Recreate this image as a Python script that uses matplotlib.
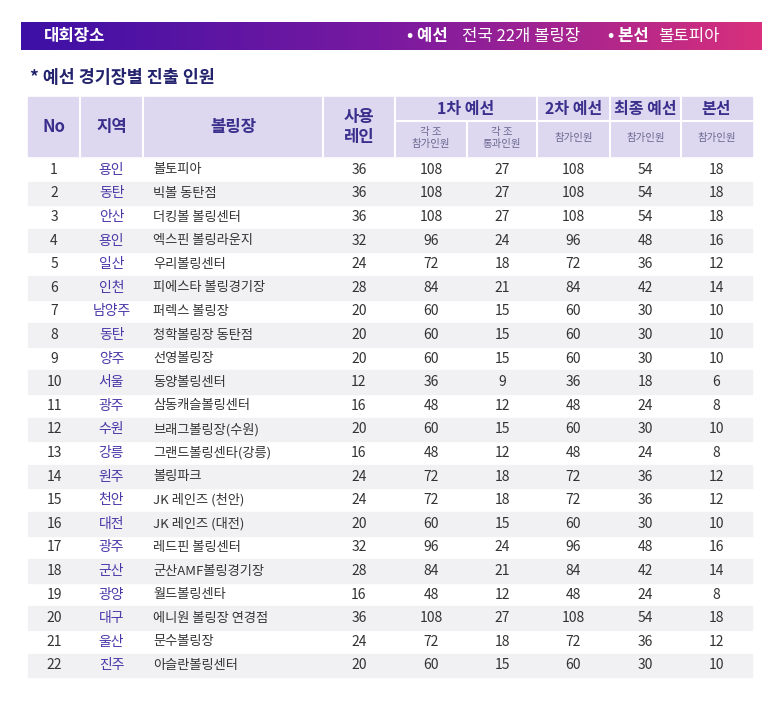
import matplotlib
matplotlib.use("Agg")
import matplotlib.pyplot as plt
import numpy as np
from matplotlib.patches import Rectangle
from matplotlib import font_manager as fm
from matplotlib.colors import LinearSegmentedColormap

cands = [f.name for f in fm.fontManager.ttflist if "CJK" in f.name]
fam = None
for pref in ["Noto Sans CJK KR", "Noto Sans CJK JP", "Noto Sans CJK SC"]:
    if pref in cands:
        fam = pref; break
if fam is None:
    for p in fm.findSystemFonts():
        if "CJK" in p or "cjk" in p.lower():
            try:
                fm.fontManager.addfont(p)
            except Exception:
                pass
    cands = [f.name for f in fm.fontManager.ttflist if "CJK" in f.name]
    fam = cands[0] if cands else "DejaVu Sans"
plt.rcParams["font.family"] = [fam, "DejaVu Sans"]

no = list(range(1, 23))
regions = ["용인","동탄","안산","용인","일산","인천","남양주","동탄","양주","서울","광주","수원","강릉","원주","천안","대전","광주","군산","광양","대구","울산","진주"]
venues = ["볼토피아","빅볼 동탄점","더킹볼 볼링센터","엑스핀 볼링라운지","우리볼링센터","피에스타 볼링경기장","퍼렉스 볼링장","청학볼링장 동탄점","선영볼링장","동양볼링센터","삼동캐슬볼링센터","브래그볼링장(수원)","그랜드볼링센타(강릉)","볼링파크","JK 레인즈 (천안)","JK 레인즈 (대전)","레드핀 볼링센터","군산AMF볼링경기장","월드볼링센타","에니원 볼링장 연경점","문수볼링장","아슬란볼링센터"]
lanes = [36,36,36,32,24,28,20,20,20,12,16,20,16,24,24,20,32,28,16,36,24,20]
r1_part = [108,108,108,96,72,84,60,60,60,36,48,60,48,72,72,60,96,84,48,108,72,60]
r1_pass = [27,27,27,24,18,21,15,15,15,9,12,15,12,18,18,15,24,21,12,27,18,15]
r2_part = [108,108,108,96,72,84,60,60,60,36,48,60,48,72,72,60,96,84,48,108,72,60]
final_part = [54,54,54,48,36,42,30,30,30,18,24,30,24,36,36,30,48,42,24,54,36,30]
main_part = [18,18,18,16,12,14,10,10,10,6,8,10,8,12,12,10,16,14,8,18,12,10]

W, H = 773, 701
fig = plt.figure(figsize=(W/100, H/100), dpi=100)
ax = fig.add_axes([0, 0, 1, 1])
ax.set_xlim(0, W); ax.set_ylim(H, 0); ax.axis("off")

grad = np.linspace(0, 1, 256).reshape(1, -1)
cmap = LinearSegmentedColormap.from_list("g", ["#3d10a6", "#7a1aa0", "#d8307c"])
ax.imshow(grad, extent=[21, 762, 50, 22], aspect="auto", cmap=cmap, zorder=1)
ax.text(44, 36, "대회장소", color="white", fontsize=12, fontweight="bold", va="center", zorder=2)
ax.text(407, 36, "• 예선", color="white", fontsize=12, fontweight="bold", va="center", zorder=2)
ax.text(462, 36, "전국 22개 볼링장", color="white", fontsize=12, va="center", zorder=2)
ax.text(608, 36, "• 본선", color="white", fontsize=12, fontweight="bold", va="center", zorder=2)
ax.text(658, 36, "볼토피아", color="white", fontsize=12, va="center", zorder=2)

ax.text(30, 78, "* 예선 경기장별 진출 인원", color="#23236e", fontsize=12.5, fontweight="bold", va="center")

edges = [28, 80, 143, 323, 395, 467, 537, 610, 681, 752]
hdr_top, hdr_mid, hdr_bot = 97, 121, 156
hbg = "#ddd8f0"; hc = "#3a2f8c"; sep = "white"
ax.add_patch(Rectangle((edges[0], hdr_top), edges[-1]-edges[0], hdr_bot-hdr_top, color=hbg, zorder=1))
for x in edges[1:-1]:
    y0 = hdr_mid if x == 467 else hdr_top
    ax.plot([x, x], [y0, hdr_bot], color=sep, lw=1.5, zorder=2)
ax.plot([edges[4], edges[-1]], [hdr_mid, hdr_mid], color=sep, lw=1.5, zorder=2)

def mid(i): return (edges[i] + edges[i+1]) / 2
ax.text(mid(0), 127, "No", color=hc, fontsize=12, fontweight="bold", ha="center", va="center")
ax.text(mid(1), 127, "지역", color=hc, fontsize=12, fontweight="bold", ha="center", va="center")
ax.text(mid(2), 127, "볼링장", color=hc, fontsize=12, fontweight="bold", ha="center", va="center")
ax.text(mid(3), 127, "사용\n레인", color=hc, fontsize=12, fontweight="bold", ha="center", va="center", linespacing=1.2)
ax.text((edges[4]+edges[6])/2, 109, "1차 예선", color=hc, fontsize=11.5, fontweight="bold", ha="center", va="center")
ax.text(mid(6), 109, "2차 예선", color=hc, fontsize=11.5, fontweight="bold", ha="center", va="center")
ax.text(mid(7), 109, "최종 예선", color=hc, fontsize=11.5, fontweight="bold", ha="center", va="center")
ax.text(mid(8), 109, "본선", color=hc, fontsize=11.5, fontweight="bold", ha="center", va="center")
sc = "#6a6790"
ax.text(mid(4), 138, "각 조\n참가인원", color=sc, fontsize=7.5, ha="center", va="center", linespacing=1.3)
ax.text(mid(5), 138, "각 조\n통과인원", color=sc, fontsize=7.5, ha="center", va="center", linespacing=1.3)
for i in (6, 7, 8):
    ax.text(mid(i), 138, "참가인원", color=sc, fontsize=7.5, ha="center", va="center")

top = 158; rh = 23.6
for r in range(len(no)):
    y0 = top + r*rh; yc = y0 + rh/2
    if r % 2 == 1:
        ax.add_patch(Rectangle((edges[0], y0), edges[-1]-edges[0], rh, color="#f1f1f3", zorder=0))
    ax.text(mid(0), yc, str(no[r]), color="#333333", fontsize=10, ha="center", va="center")
    ax.text(mid(1), yc, regions[r], color="#4a37a8", fontsize=10, ha="center", va="center")
    ax.text(edges[2]+10, yc, venues[r], color="#333333", fontsize=9.5, ha="left", va="center")
    vals = [lanes[r], r1_part[r], r1_pass[r], r2_part[r], final_part[r], main_part[r]]
    for j, v in enumerate(vals):
        ax.text(mid(3+j), yc, str(v), color="#333333", fontsize=10, ha="center", va="center")

fig.savefig("out.png", dpi=100)
